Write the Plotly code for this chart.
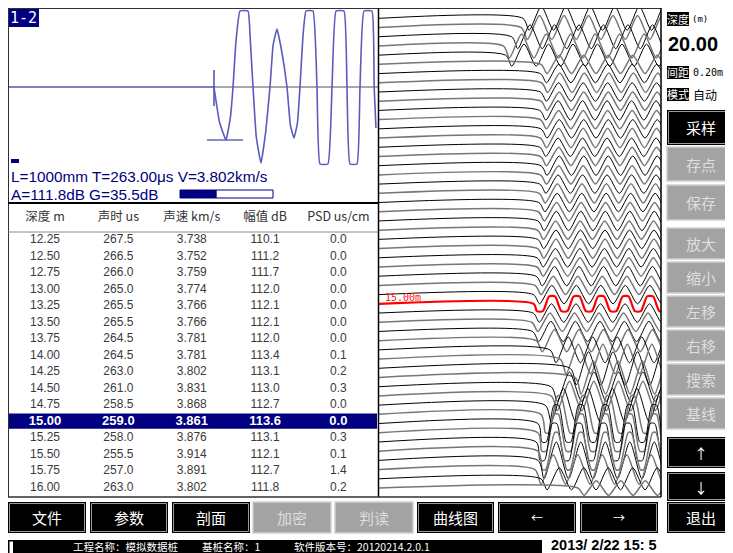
import math
import plotly.graph_objects as go

# The page body adds an 8px margin, so the figure covers pixels 8..733 x 8..553
OFF = 8
W, H = 733 - OFF, 553 - OFF

# ===================== data =====================
tbl_headers = ["深度 m", "声时 us", "声速 km/s", "幅值 dB", "PSD us/cm"]
tbl_depth = [12.25, 12.50, 12.75, 13.00, 13.25, 13.50, 13.75, 14.00,
             14.25, 14.50, 14.75, 15.00, 15.25, 15.50, 15.75, 16.00]
tbl_time = [267.5, 266.5, 266.0, 265.0, 265.5, 265.5, 264.5, 264.5,
            263.0, 261.0, 258.5, 259.0, 258.0, 255.5, 257.0, 263.0]
tbl_speed = [3.738, 3.752, 3.759, 3.774, 3.766, 3.766, 3.781, 3.781,
             3.802, 3.831, 3.868, 3.861, 3.876, 3.914, 3.891, 3.802]
tbl_amp = [110.1, 111.2, 111.7, 112.0, 112.1, 112.1, 112.0, 113.4,
           113.1, 113.0, 112.7, 113.6, 113.1, 112.1, 112.7, 111.8]
tbl_psd = [0.0, 0.0, 0.0, 0.0, 0.0, 0.0, 0.0, 0.1,
           0.2, 0.3, 0.0, 0.0, 0.3, 0.1, 1.4, 0.2]
selected_depth = 15.00

# current waveform (top-left panel): time (us) and amplitude
channel_label = "1-2"
L_mm = 1000
T_us = 263.00
V_kms = 3.802
A_db = 111.8
G_db = 35.5
G_max = 90.0
wave_t = [263.0, 270.0, 278.3, 284.0, 287.3, 291.0, 296.2, 306.4, 309.5, 312.8,
          317.0, 323.0, 329.0, 334.5, 338.5, 343.4, 348.5, 356.2, 360.5, 365.1,
          369.5, 372.8, 376.5, 380.5, 389.4, 394.5, 398.3, 408.5, 413.7, 418.8,
          429.0, 432.8, 436.6, 445.6, 449.4, 454.5, 464.7, 467.5, 469.8]
wave_a = [0, -35, -53, -30, 0, 45, 76, 76, 45, 0,
          -50, -76, -45, 0, 42, 58, 40, 0, -38, -51,
          -36, 0, 50, 76, 76, 0, -77, -77, 0, 76,
          76, 0, -77, -77, 0, 76, 76, 0, -41]
pick_mark_amp = [17, -19]
first_peak_amp = -53
first_peak_t = [254, 300]
wave_tmax = 472.4

# profile traces (right panel)
trace_depth = [7.25, 7.50, 7.75, 8.00, 8.25, 8.50, 8.75, 9.00, 9.25, 9.50,
               9.75, 10.00, 10.25, 10.50, 10.75, 11.00, 11.25, 11.50, 11.75, 12.00,
               12.25, 12.50, 12.75, 13.00, 13.25, 13.50, 13.75, 14.00, 14.25, 14.50,
               14.75, 15.00, 15.25, 15.50, 15.75, 16.00, 16.25, 16.50, 16.75, 17.00,
               17.25, 17.50, 17.75, 18.00, 18.25, 18.50, 18.75, 19.00, 19.25, 19.50,
               19.75, 20.00]
trace_arrival = [241, 238, 222, 208, 212, 271, 270, 272, 270, 271,
                 269, 270, 271, 270, 269, 270, 271, 270, 269, 268,
                 267.5, 266.5, 266.0, 265.0, 265.5, 265.5, 264.5, 264.5, 263.0, 261.0,
                 258.5, 259.0, 258.0, 255.5, 257.0, 263.0, 286, 303, 320, 328,
                 288, 288, 278, 271, 266, 266, 263, 266, 266, 261,
                 271, 333]
trace_amp = [1.3, 1.3, 1.3, 1.3, 1.2, 1.0, 1.0, 1.05, 1.0, 1.0,
             1.05, 1.0, 1.0, 1.05, 1.0, 1.0, 1.05, 1.0, 1.0, 1.05,
             1.0, 1.0, 1.05, 1.0, 1.0, 1.05, 1.0, 1.0, 1.05, 1.0,
             1.0, 1.1, 1.0, 1.0, 1.1, 1.2, 1.4, 1.6, 1.8, 1.8,
             1.6, 1.6, 1.8, 2.2, 2.4, 2.4, 2.4, 2.2, 2.0, 1.6,
             1.2, 0.8]
trace_spacing = 0.25
trace_period = 41.0
trace_clip = 2.0
sel_clip = 0.8
profile_tmax = 472.0

total_depth = "20.00"
spacing_text = "0.20m"
mode_text = "自动"
project_name = "模拟数据桩"
pile_name = "1"
version = "20120214.2.0.1"
datetime_text = "2013/ 2/22 15: 5"

side_buttons = [("采样", "on"), ("存点", "off"), ("保存", "off"), ("放大", "off"),
                ("缩小", "off"), ("左移", "off"), ("右移", "off"), ("搜索", "off"),
                ("基线", "off"), ("↑", "on"), ("↓", "on")]
bottom_buttons = [("文件", "on"), ("参数", "on"), ("剖面", "on"), ("加密", "off"),
                  ("判读", "off"), ("曲线图", "on"), ("←", "on"), ("→", "on"), ("退出", "on")]

# ===================== helpers =====================
CJK = "Noto Sans CJK SC"
SANS = "Liberation Sans, Arial"
MONO = "DejaVu Sans Mono"
NAVY = "#000080"

shapes = []
annotations = []


def X(px):
    return (px - OFF) / W


def Y(py):
    return 1 - (py - OFF) / H


def rect(x0, y0, x1, y1, fill, line=None, lw=0, layer="above"):
    shapes.append(dict(type="rect", xref="paper", yref="paper",
                       x0=X(x0), x1=X(x1), y0=Y(y1), y1=Y(y0),
                       fillcolor=fill, line=dict(color=line or fill, width=lw),
                       layer=layer))


def hline(x0, x1, y, color, lw=1, layer="above"):
    shapes.append(dict(type="line", xref="paper", yref="paper",
                       x0=X(x0), x1=X(x1), y0=Y(y), y1=Y(y),
                       line=dict(color=color, width=lw), layer=layer))


def vline(x, y0, y1, color, lw=1, layer="above"):
    shapes.append(dict(type="line", xref="paper", yref="paper",
                       x0=X(x), x1=X(x), y0=Y(y0), y1=Y(y1),
                       line=dict(color=color, width=lw), layer=layer))


def text(x, y, s, size, color, family, xanchor="center", bold=False):
    if bold:
        s = "<b>" + s + "</b>"
    annotations.append(dict(xref="paper", yref="paper", x=X(x), y=Y(y), text=s,
                            showarrow=False, xanchor=xanchor, yanchor="middle",
                            borderpad=0,
                            font=dict(size=size, color=color, family=family)))


fig = go.Figure()

# ===================== top-left waveform =====================
fig.add_trace(go.Scatter(x=[0, T_us], y=[0, 0], mode="lines",
                         line=dict(color=NAVY, width=1), xaxis="x", yaxis="y",
                         hoverinfo="skip"))
fig.add_trace(go.Scatter(x=[T_us, wave_tmax], y=[0, 0], mode="lines",
                         line=dict(color="#505050", width=1), xaxis="x", yaxis="y",
                         hoverinfo="skip"))
fig.add_trace(go.Scatter(x=[T_us, T_us], y=pick_mark_amp, mode="lines",
                         line=dict(color="#3030a0", width=1.3), xaxis="x", yaxis="y",
                         hoverinfo="skip"))
fig.add_trace(go.Scatter(x=first_peak_t, y=[first_peak_amp, first_peak_amp], mode="lines",
                         line=dict(color="#8c8cd0", width=1.8), xaxis="x", yaxis="y",
                         hoverinfo="skip"))
fig.add_trace(go.Scatter(x=wave_t, y=wave_a, mode="lines",
                         line=dict(color="#5a5abf", width=1.6, shape="spline", smoothing=0.35),
                         xaxis="x", yaxis="y", hoverinfo="skip"))


# ===================== right profile =====================
def trace_points(t0, amp, depth, clip):
    xs = [0, t0]
    ys = [depth, depth]
    k = 0
    while True:
        te = t0 + trace_period / 4 + k * trace_period / 2
        sign = 1 if k % 2 == 0 else -1
        if amp > clip:
            hw = trace_period / (2 * math.pi) * math.acos(clip / amp)
            a = clip
            pts = [te - hw, te + hw]
        else:
            a = amp
            pts = [te]
        for p in pts:
            xs.append(p)
            ys.append(depth + sign * a * trace_spacing)
        if te > profile_tmax + trace_period / 2:
            break
        k += 1
    return xs, ys


sel_idx = None
for i, (d, t0, a) in enumerate(zip(trace_depth, trace_arrival, trace_amp)):
    if abs(d - selected_depth) < 1e-6:
        sel_idx = i
        continue
    xs, ys = trace_points(t0, a, d, trace_clip)
    col, lw = ("#000000", 1.0) if i % 2 == 0 else ("#767676", 1.5)
    fig.add_trace(go.Scatter(x=xs, y=ys, mode="lines",
                             line=dict(color=col, width=lw, shape="spline", smoothing=0.7),
                             xaxis="x2", yaxis="y2", hoverinfo="skip"))
if sel_idx is not None:
    xs, ys = trace_points(trace_arrival[sel_idx], trace_amp[sel_idx],
                          trace_depth[sel_idx], sel_clip)
    fig.add_trace(go.Scatter(x=xs, y=ys, mode="lines",
                             line=dict(color="#ff0000", width=2.2, shape="spline", smoothing=0.7),
                             xaxis="x2", yaxis="y2", hoverinfo="skip"))
annotations.append(dict(xref="x2", yref="y2", x=8, y=selected_depth - 0.17,
                        text="%.2fm" % selected_depth, showarrow=False,
                        xanchor="left", yanchor="middle", borderpad=0,
                        font=dict(size=10, color="#ff2020", family=MONO)))

# ===================== table =====================
fmt_rows = []
for d, t, v, a, p in zip(tbl_depth, tbl_time, tbl_speed, tbl_amp, tbl_psd):
    fmt_rows.append(["%.2f" % d, "%.1f" % t, "%.3f" % v, "%.1f" % a, "%.1f" % p])

norm_x, norm_y, norm_t = [], [], []
sel_x, sel_y, sel_t = [], [], []
for r, row in enumerate(fmt_rows):
    for c, s in enumerate(row):
        if abs(tbl_depth[r] - selected_depth) < 1e-6:
            sel_x.append(c); sel_y.append(r); sel_t.append("<b>" + s + "</b>")
        else:
            norm_x.append(c); norm_y.append(r); norm_t.append(s)
sel_row = [i for i, d in enumerate(tbl_depth) if abs(d - selected_depth) < 1e-6][0]

shapes.append(dict(type="rect", xref="paper", yref="y3", x0=X(8.5), x1=X(377),
                   y0=sel_row - 0.5, y1=sel_row + 0.42, fillcolor=NAVY,
                   line=dict(width=0), layer="below"))

fig.add_trace(go.Scatter(x=norm_x, y=norm_y, text=norm_t, mode="text",
                         textposition="middle center",
                         textfont=dict(size=12, color="#3a3a3a", family=SANS),
                         xaxis="x3", yaxis="y3", hoverinfo="skip"))
fig.add_trace(go.Scatter(x=sel_x, y=sel_y, text=sel_t, mode="text",
                         textposition="middle center",
                         textfont=dict(size=13, color="#ffffff", family=SANS),
                         xaxis="x3", yaxis="y3", hoverinfo="skip"))
fig.add_trace(go.Scatter(x=list(range(len(tbl_headers))), y=[-1.33] * len(tbl_headers),
                         text=tbl_headers, mode="text", textposition="middle center",
                         textfont=dict(size=12.5, color="#333333", family=CJK),
                         xaxis="x3", yaxis="y3", hoverinfo="skip"))

# ===================== panel frames =====================
hline(8, 661, 8.5, "#303030", 1)
vline(8.5, 8, 497, "#303030", 1)
vline(378.5, 8, 497, "#000000", 1.5)
hline(8, 378, 203, "#000000", 2)
hline(8, 378, 232, "#8a8a8a", 1)
hline(8, 661, 497, "#303030", 1.5)
vline(661, 8, 497, "#000000", 1.5)

# channel label
rect(9, 9, 39, 27, NAVY)
text(24, 18.5, channel_label, 15, "#ffffff", MONO)
# small indicator
rect(11, 159, 19, 163, NAVY)
# info text
text(10, 176, "L=%dmm T=%.2fμs V=%.3fkm/s" % (L_mm, T_us, V_kms), 15.3, NAVY, SANS, xanchor="left")
text(10, 194, "A=%.1fdB G=%.1fdB" % (A_db, G_db), 15.3, NAVY, SANS, xanchor="left")
# gain bar
rect(180, 190, 273, 198, "#ffffff", NAVY, 1)
rect(180, 190, 180 + (273 - 180) * G_db / G_max, 198, NAVY)

# ===================== right info =====================
rect(667, 12, 689, 26, "#000000")
text(678, 19, "深度", 11, "#ffffff", CJK)
text(691, 19, "(m)", 9, "#000000", MONO, xanchor="left")
text(667, 44, total_depth, 20, "#000000", SANS, xanchor="left", bold=True)
rect(667, 66, 689, 79, "#000000")
text(678, 72.5, "间距", 11, "#ffffff", CJK)
text(692, 72.5, spacing_text, 10, "#000000", MONO, xanchor="left")
rect(667, 88, 689, 101, "#000000")
text(678, 94.5, "模式", 11, "#ffffff", CJK)
text(692, 94.5, mode_text, 12, "#000000", CJK, xanchor="left")

side_pos = [(110, 145), (147, 181), (185, 220), (228, 259), (262, 293), (296, 327),
            (330, 361), (364, 395), (398, 429), (437, 468), (472, 501)]


def button(x0, y0, x1, y1, label, state, size=15):
    if state == "on":
        rect(x0, y0, x1, y1, "#000000")
        rect(x0 + 1.5, y0 + 1.5, x1 - 1.5, y1 - 1.5, "#000000", "#9a9a9a", 1)
        col = "#ffffff"
    else:
        rect(x0, y0, x1, y1, "#a3a3a3", "#cfcfcf", 1.5)
        col = "#dedede"
    text((x0 + x1) / 2, (y0 + y1) / 2, label, size, col, CJK)


for (lab, st), (y0, y1) in zip(side_buttons, side_pos):
    button(667, y0, 734, y1, lab, st, 15 if lab not in ("↑", "↓") else 14)

bottom_pos = [(8, 86), (90, 168), (172, 250), (253, 331), (335, 413),
              (417, 494), (498, 576), (580, 658), (667, 734)]
for (lab, st), (x0, x1) in zip(bottom_buttons, bottom_pos):
    button(x0, 502, x1, 533, lab, st, 15 if lab not in ("←", "→") else 12)

# ===================== status bar =====================
rect(8, 540, 542, 554, "#000000")
rect(9.5, 541.5, 13, 554, "#ffffff")
text(72, 546.5, "工程名称：" + project_name, 10.5, "#ffffff", CJK, xanchor="left")
text(201, 546.5, "基桩名称：" + pile_name, 10.5, "#ffffff", CJK, xanchor="left")
text(293, 546.5, "软件版本号：" + version, 10.5, "#ffffff", CJK, xanchor="left")
text(550, 545, datetime_text, 14.5, "#000000", "Liberation Sans Narrow, Liberation Sans",
     xanchor="left", bold=True)

# ===================== layout =====================
ax = dict(visible=False, fixedrange=True, showgrid=False, zeroline=False)
fig.update_layout(
    width=W, height=H, margin=dict(l=0, r=0, t=0, b=0),
    paper_bgcolor="#ffffff", plot_bgcolor="rgba(0,0,0,0)",
    showlegend=False,
    xaxis=dict(ax, domain=[X(8), X(378)], range=[0, wave_tmax], anchor="y"),
    yaxis=dict(ax, domain=[Y(203), Y(8)], range=[-116, 79], anchor="x"),
    xaxis2=dict(ax, domain=[X(379), X(661)], range=[0, profile_tmax], anchor="y2"),
    yaxis2=dict(ax, domain=[Y(497), Y(8)], range=[20.244, 6.97], anchor="x2"),
    xaxis3=dict(ax, domain=[X(8), X(378)], range=[-0.505, 4.54], anchor="y3"),
    yaxis3=dict(ax, domain=[Y(497), Y(203)], range=[15.55, -2.238], anchor="x3"),
    shapes=shapes, annotations=annotations,
)

fig.write_html("out.html")
